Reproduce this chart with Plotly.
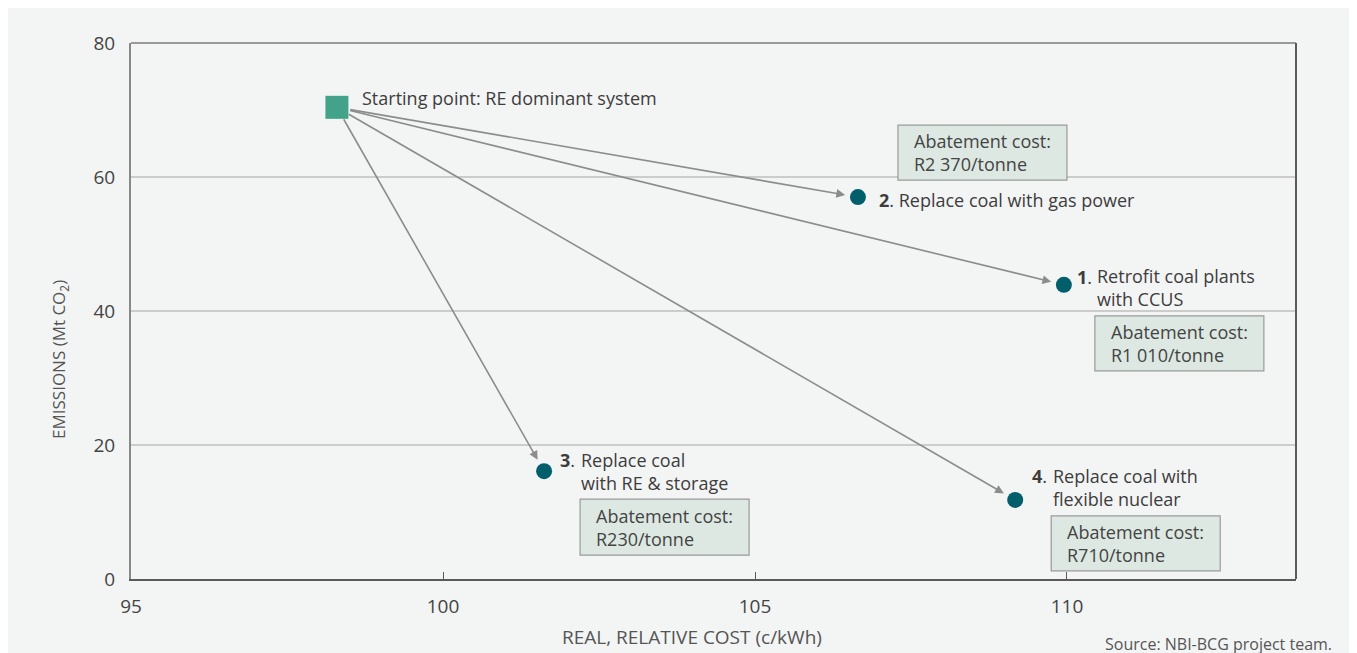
import plotly.graph_objects as go

# ---- data ----
start_label = "Starting point: RE dominant system"
start_x = [98.3]
start_y = [70.4]

option_nums = ["1", "2", "3", "4"]
option_x = [109.95, 106.65, 101.62, 109.17]
option_y = [43.9, 57.0, 16.1, 11.8]
option_text = [
    "Retrofit coal plants<br>with CCUS",
    "Replace coal with gas power",
    "Replace coal<br>with RE & storage",
    "Replace coal with<br>flexible nuclear",
]
abatement_cost = ["R1 010/tonne", "R2 370/tonne", "R230/tonne", "R710/tonne"]

x_ticks = [95, 100, 105, 110]
y_ticks = [0, 20, 40, 60, 80]

# ---- styles (pixel offsets relative to each point) ----
BG = "#f3f4f4"
TXT = "#3d3d3d"
FONT = "Open Sans"
FS = 18
num_shift = [(11, 8), (19, -3), (14, 11), (15, 24)]
text_shift = [(31, -3), None, (35, 0), (36, 12)]
box_off = [(31, -31, -86), (40, 72, 17), (36, -28, -84), (36, -16, -71)]  # left, top, bottom
BOX_W = 169

fig = go.Figure()

fig.add_trace(go.Scatter(
    x=start_x, y=start_y, mode="markers",
    marker=dict(symbol="square", size=23, color="#43a38a"),
    hoverinfo="skip", showlegend=False))
fig.add_trace(go.Scatter(
    x=option_x, y=option_y, mode="markers",
    marker=dict(symbol="circle", size=16, color="#005f6b"),
    hoverinfo="skip", showlegend=False))

annotations = []
shapes = []

# top and right frame lines
shapes.append(dict(type="line", xref="paper", yref="paper", x0=0, x1=1, y0=1, y1=1,
                   line=dict(color="#999999", width=2)))
shapes.append(dict(type="line", xref="paper", yref="paper", x0=1, x1=1, y0=0, y1=1,
                   line=dict(color="#5a5a5a", width=2)))

# arrows
for i in range(len(option_x)):
    annotations.append(dict(
        x=option_x[i], y=option_y[i], ax=start_x[0], ay=start_y[0],
        xref="x", yref="y", axref="x", ayref="y", text="",
        showarrow=True, arrowhead=2, arrowsize=1.1, arrowwidth=1.6,
        arrowcolor="#8c8c8c", standoff=13, startstandoff=12))

# start label
annotations.append(dict(
    x=start_x[0], y=start_y[0], xref="x", yref="y", text=start_label,
    showarrow=False, xanchor="left", yanchor="middle", xshift=23, yshift=9,
    font=dict(family=FONT, size=FS, color=TXT)))

for i in range(len(option_x)):
    nx, ny = num_shift[i]
    if text_shift[i] is None:
        annotations.append(dict(
            x=option_x[i], y=option_y[i], xref="x", yref="y",
            text="<b>" + option_nums[i] + "</b>. " + option_text[i],
            showarrow=False, xanchor="left", yanchor="middle", xshift=nx, yshift=ny,
            font=dict(family=FONT, size=FS, color=TXT)))
    else:
        annotations.append(dict(
            x=option_x[i], y=option_y[i], xref="x", yref="y",
            text="<b>" + option_nums[i] + "</b>.",
            showarrow=False, xanchor="left", yanchor="middle", xshift=nx, yshift=ny,
            font=dict(family=FONT, size=FS, color=TXT)))
        tx, ty = text_shift[i]
        annotations.append(dict(
            x=option_x[i], y=option_y[i], xref="x", yref="y",
            text=option_text[i], align="left",
            showarrow=False, xanchor="left", yanchor="middle", xshift=tx, yshift=ty,
            font=dict(family=FONT, size=FS, color=TXT)))
    left, top, bottom = box_off[i]
    shapes.append(dict(
        type="rect", xref="x", yref="y",
        xsizemode="pixel", ysizemode="pixel",
        xanchor=option_x[i], yanchor=option_y[i],
        x0=left, x1=left + BOX_W, y0=bottom, y1=top,
        fillcolor="#dde8e2", line=dict(color="#9a9a9a", width=1.2), layer="above"))
    annotations.append(dict(
        x=option_x[i], y=option_y[i], xref="x", yref="y",
        text="Abatement cost:<br>" + abatement_cost[i], align="left",
        showarrow=False, xanchor="left", yanchor="middle",
        xshift=left + 14, yshift=(top + bottom) / 2,
        font=dict(family=FONT, size=FS, color="#444444")))

# axis titles & source
annotations.append(dict(
    xref="paper", yref="paper", x=(692 - 131) / 1165, y=(579 - 637) / 536,
    text="REAL, RELATIVE COST (c/kWh)", showarrow=False,
    xanchor="center", yanchor="middle",
    font=dict(family=FONT, size=19, color="#555555")))
annotations.append(dict(
    xref="paper", yref="paper", x=(59 - 131) / 1165, y=(579 - 360) / 536,
    text="EMISSIONS (Mt CO<sub>2</sub>)", showarrow=False, textangle=-90,
    xanchor="center", yanchor="middle",
    font=dict(family=FONT, size=17, color="#555555")))
annotations.append(dict(
    xref="paper", yref="paper", x=(1334 - 131) / 1165, y=(579 - 644) / 536,
    text="Source: NBI-BCG project team.", showarrow=False,
    xanchor="right", yanchor="middle",
    font=dict(family=FONT, size=16, color="#555555")))

fig.update_layout(
    width=1357, height=653,
    margin=dict(l=123, r=69, t=35, b=82),
    paper_bgcolor=BG, plot_bgcolor=BG,
    showlegend=False,
    annotations=annotations, shapes=shapes,
    font=dict(family=FONT, color=TXT),
)
fig.update_xaxes(
    range=[95, 113.67], tickvals=x_ticks, ticktext=[str(v) for v in x_ticks],
    showgrid=False, zeroline=False,
    showline=True, linecolor="#5a5a5a", linewidth=2,
    ticks="inside", ticklen=7, tickcolor="#5a5a5a", tickwidth=1.2,
    tickfont=dict(family=FONT, size=19, color="#444444"),
    ticklabelstandoff=9,
)
fig.update_yaxes(
    range=[0, 80], tickvals=y_ticks, ticktext=[str(v) for v in y_ticks],
    showgrid=True, gridcolor="#cccccc", gridwidth=1.5, zeroline=False,
    showline=True, linecolor="#888888", linewidth=2,
    ticks="", tickfont=dict(family=FONT, size=19, color="#444444"),
    ticklabelstandoff=10,
)

fig.write_html("out.html")
